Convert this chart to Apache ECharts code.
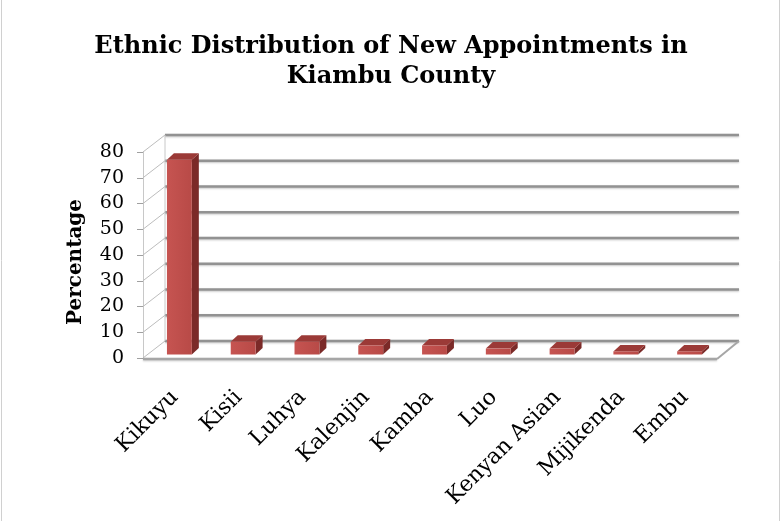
<!DOCTYPE html>
<html><head><meta charset="utf-8">
<script src="https://cdn.jsdelivr.net/npm/echarts@6/dist/echarts.min.js"></script>
<style>html,body{margin:0;padding:0;background:#fff}#c{width:782px;height:521px}</style>
</head><body><div id="c"></div>
<script>
const categories = ['Kikuyu','Kisii','Luhya','Kalenjin','Kamba','Luo','Kenyan Asian','Mijikenda','Embu'];
const percentages = [75.6, 5.0, 5.0, 3.5, 3.5, 2.3, 2.3, 1.2, 1.2];
const yTicks = [0, 10, 20, 30, 40, 50, 60, 70, 80];
const titleText = 'Ethnic Distribution of New Appointments in\nKiambu County';
const yName = 'Percentage';

const chart = echarts.init(document.getElementById('c'), null, {renderer: 'canvas'});
const BACK = [22, -17];
const FACE = [4.5, -3.5];
const DEPTH = [7, -6.5];

function wallItem(params, api) {
  const cs = params.coordSys;
  const v = api.value(1);
  const y = api.coord([0, v])[1];
  const x0 = cs.x, xR = cs.x + cs.width;
  const children = [
    {type: 'line', shape: {x1: x0, y1: y, x2: x0 + BACK[0], y2: y + BACK[1]},
     style: {stroke: '#bdbdbd', lineWidth: 1}},
    {type: 'line', shape: {x1: x0 + BACK[0], y1: y + BACK[1], x2: xR + BACK[0], y2: y + BACK[1]},
     style: {stroke: '#929292', lineWidth: 2.5, shadowColor: 'rgba(0,0,0,0.22)', shadowBlur: 2, shadowOffsetY: 1}}
  ];
  if (v === 0) {
    children.push({type: 'line', shape: {x1: x0, y1: y + 1, x2: xR, y2: y + 1},
      style: {stroke: '#a6a6a6', lineWidth: 2.5, shadowColor: 'rgba(0,0,0,0.2)', shadowBlur: 2, shadowOffsetY: 1}});
    children.push({type: 'line', shape: {x1: xR, y1: y + 1, x2: xR + BACK[0], y2: y + BACK[1]},
      style: {stroke: '#a6a6a6', lineWidth: 2}});
  }
  if (v === yTicks[yTicks.length - 1]) {
    const y0 = api.coord([0, 0])[1];
    children.push({type: 'line', shape: {x1: x0 + BACK[0], y1: y + BACK[1], x2: x0 + BACK[0], y2: y0 + BACK[1]},
      style: {stroke: '#c8c8c8', lineWidth: 1}});
  }
  return {type: 'group', children: children};
}

function barItem(params, api) {
  const i = api.value(0), v = api.value(1);
  const c0 = api.coord([i, 0]), c1 = api.coord([i, v]);
  const bw = api.size([1, 0])[0] * 0.39;
  const xl = c0[0] - bw / 2 + FACE[0], xr = xl + bw;
  const yb = c0[1] + FACE[1], yt = c1[1] + FACE[1];
  return {type: 'group', children: [
    {type: 'polygon', shape: {points: [[xr, yt], [xr + DEPTH[0], yt + DEPTH[1]], [xr + DEPTH[0], yb + DEPTH[1]], [xr, yb]]},
     style: {fill: '#7b2a28'}},
    {type: 'polygon', shape: {points: [[xl, yt], [xr, yt], [xr + DEPTH[0], yt + DEPTH[1]], [xl + DEPTH[0], yt + DEPTH[1]]]},
     style: {fill: '#9b3a37'}},
    {type: 'rect', shape: {x: xl, y: yt, width: bw, height: yb - yt},
     style: {fill: new echarts.graphic.LinearGradient(0, 0, 1, 0, [
       {offset: 0, color: '#c65451'}, {offset: 1, color: '#b84a47'}])}}
  ]};
}

chart.setOption({
  backgroundColor: '#fff',
  animation: false,
  title: {
    text: titleText, left: 'center', top: 27, padding: [5, 5, 5, 25],
    textStyle: {fontFamily: 'DejaVu Serif', fontWeight: 'bold', fontSize: 24, lineHeight: 30, color: '#000'}
  },
  grid: {left: 143, right: 65, top: 152, bottom: 163},
  xAxis: {
    type: 'category', data: categories,
    axisLine: {show: false}, axisTick: {show: false}, splitLine: {show: false},
    axisLabel: {rotate: 45, margin: 36, interval: 0, fontFamily: 'DejaVu Serif', fontSize: 22, color: '#000'}
  },
  yAxis: {
    type: 'value', min: 0, max: 80, interval: 10,
    name: yName, nameLocation: 'middle', nameGap: 57, nameRotate: 90,
    nameTextStyle: {fontFamily: 'DejaVu Serif', fontWeight: 'bold', fontSize: 20, color: '#000', padding: [0, 14, 0, 0]},
    axisLine: {show: true, lineStyle: {color: '#c8c8c8', width: 1}},
    axisTick: {show: true, length: 6, lineStyle: {color: '#a0a0a0'}},
    splitLine: {show: false},
    axisLabel: {margin: 19, fontFamily: 'DejaVu Serif', fontSize: 19, color: '#000'}
  },
  graphic: [
    {type: 'line', shape: {x1: 1.5, y1: 0, x2: 1.5, y2: 521}, style: {stroke: '#d0d0d0', lineWidth: 1}},
    {type: 'line', shape: {x1: 779.5, y1: 0, x2: 779.5, y2: 521}, style: {stroke: '#d0d0d0', lineWidth: 1}}
  ],
  series: [
    {type: 'custom', name: 'walls', renderItem: wallItem, data: yTicks.map(v => [0, v]), silent: true, z: 1},
    {type: 'custom', name: 'bars', renderItem: barItem, data: percentages.map((v, i) => [i, v]), z: 2}
  ]
});
</script></body></html>
